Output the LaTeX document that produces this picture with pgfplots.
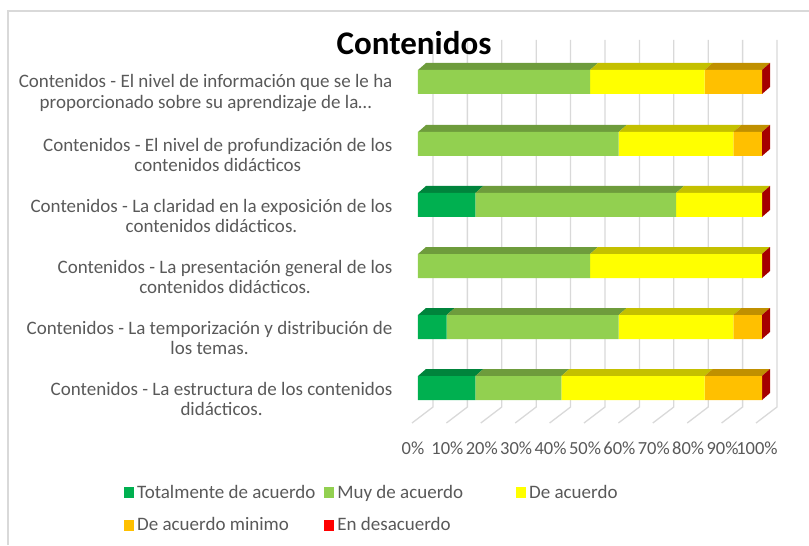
\documentclass[border=0pt]{standalone}
\usepackage{pgfplots}
\pgfplotsset{compat=1.18}
\usepackage{fontspec}
\setmainfont{Carlito}

\definecolor{dg}{HTML}{00B050}
\definecolor{dgtop}{HTML}{00843C}
\definecolor{lg}{HTML}{92D050}
\definecolor{lgtop}{HTML}{6E9C3C}
\definecolor{ye}{HTML}{FFFF00}
\definecolor{yetop}{HTML}{C4C000}
\definecolor{or}{HTML}{FFC000}
\definecolor{ortop}{HTML}{C09000}
\definecolor{rd}{HTML}{FF0000}
\definecolor{rdside}{HTML}{A50000}
\definecolor{gridc}{HTML}{D9D9D9}
\definecolor{txt}{HTML}{595959}

% top face of one segment: colour, x0, x1, y centre
\newcommand\topface[4]{%
  \pgfmathsetmacro\ya{#4+12}\pgfmathsetmacro\yb{#4+19}%
  \pgfmathsetmacro\xa{#2+2.33}\pgfmathsetmacro\xb{#3+2.33}%
  \edef\tmp{\noexpand\addplot[fill=#1,draw=none] coordinates {(#2,\ya) (#3,\ya) (\xb,\yb) (\xa,\yb)} -- cycle;}\tmp}
% red side at 100%
\newcommand\sideface[1]{%
  \pgfmathsetmacro\ya{#1-12}\pgfmathsetmacro\yb{#1+12}%
  \pgfmathsetmacro\yc{#1+19}\pgfmathsetmacro\yd{#1-5}%
  \edef\tmp{\noexpand\addplot[fill=rdside,draw=none] coordinates {(100,\ya) (100,\yb) (102.33,\yc) (102.33,\yd)} -- cycle;}\tmp}

\pgfplotsset{frame/.style={scale only axis, width=344pt, height=430pt,
  xmin=0, xmax=100, ymin=-430, ymax=0, clip=false}}

\begin{document}
\begin{tikzpicture}
% back walls, floor and 3D faces
\begin{axis}[frame, hide axis]
\pgfplotsinvokeforeach{0,10,...,100}{
  \draw[gridc, line width=1.3pt] (axis cs:#1+4.36,-40) -- (axis cs:#1+4.36,-407) -- (axis cs:#1-1.74,-423);
}
\topface{lgtop}{0}{50}{-82}\topface{yetop}{50}{83.33}{-82}\topface{ortop}{83.33}{100}{-82}
\topface{lgtop}{0}{58.33}{-144}\topface{yetop}{58.33}{91.67}{-144}\topface{ortop}{91.67}{100}{-144}
\topface{dgtop}{0}{16.67}{-205}\topface{lgtop}{16.67}{75}{-205}\topface{yetop}{75}{100}{-205}
\topface{lgtop}{0}{50}{-266}\topface{yetop}{50}{100}{-266}
\topface{dgtop}{0}{8.33}{-327}\topface{lgtop}{8.33}{58.33}{-327}\topface{yetop}{58.33}{91.67}{-327}\topface{ortop}{91.67}{100}{-327}
\topface{dgtop}{0}{16.67}{-388}\topface{lgtop}{16.67}{41.67}{-388}\topface{yetop}{41.67}{83.33}{-388}\topface{ortop}{83.33}{100}{-388}
\sideface{-82}\sideface{-144}\sideface{-205}\sideface{-266}\sideface{-327}\sideface{-388}
\node[anchor=base, font=\fontsize{33}{35}\selectfont\bfseries] at (axis cs:-1.16,-55) {Contenidos};
\draw[gridc, line width=1.3pt] (axis cs:-119.19,-545) -- (axis cs:-119.19,-11) -- (axis cs:113.66,-11);
\coordinate (bl) at (axis cs:-121.51,-545);
\coordinate (tr) at (axis cs:113.66,0);
\end{axis}
% the bars
\begin{axis}[
  frame,
  xbar stacked, bar width=24,
  axis line style={draw=none},
  major tick length=0pt,
  xtick={0,10,...,100},
  xticklabels={0\%,10\%,20\%,30\%,40\%,50\%,60\%,70\%,80\%,90\%,100\%},
  xticklabel style={font=\fontsize{18.5}{20}\selectfont, text=txt, xshift=-5pt, yshift=-8pt},
  ytick={-82,-144,-205,-266,-327,-388},
  yticklabels={
    {Contenidos - El nivel de información que se le ha\\proporcionado sobre su aprendizaje de la…},
    {Contenidos - El nivel de profundización de los\\contenidos didácticos},
    {Contenidos - La claridad en la exposición de los\\contenidos didácticos.},
    {Contenidos - La presentación general de los\\contenidos didácticos.},
    {Contenidos - La temporización y distribución de\\los temas.},
    {Contenidos - La estructura de los contenidos\\didácticos.}},
  yticklabel style={align=center, font=\fontsize{19}{20.5}\selectfont, text=txt, yshift=-11pt, xshift=-22pt},
  legend columns=3,
  legend cell align=left,
  legend image code/.code={\fill[#1] (0pt,-5.5pt) rectangle (10pt,5.5pt);},
  legend style={at={(-0.8547,-0.123)}, anchor=north west, draw=none, fill=none,
    inner sep=0pt, row sep=14pt, column sep=0pt,
    /tikz/column 2/.style={column sep=6pt},
    /tikz/column 4/.style={column sep=50pt},
    font=\fontsize{19}{20}\selectfont, text=txt,
    nodes={inner xsep=3pt}},
]
\addplot[fill=dg, draw=none] coordinates {(0,-82) (0,-144) (16.67,-205) (0,-266) (8.33,-327) (16.67,-388)};
\addlegendentry{Totalmente de acuerdo}
\addplot[fill=lg, draw=none] coordinates {(50,-82) (58.33,-144) (58.33,-205) (50,-266) (50,-327) (25,-388)};
\addlegendentry{Muy de acuerdo}
\addplot[fill=ye, draw=none] coordinates {(33.33,-82) (33.33,-144) (25,-205) (50,-266) (33.33,-327) (41.67,-388)};
\addlegendentry{De acuerdo}
\addplot[fill=or, draw=none] coordinates {(16.67,-82) (8.33,-144) (0,-205) (0,-266) (8.33,-327) (16.67,-388)};
\addlegendentry{De acuerdo minimo}
\addplot[fill=rd, draw=none] coordinates {(0,-82) (0,-144) (0,-205) (0,-266) (0,-327) (0,-388)};
\addlegendentry{En desacuerdo}
\end{axis}
\pgfresetboundingbox
\path (bl) rectangle (tr);
\end{tikzpicture}
\end{document}
